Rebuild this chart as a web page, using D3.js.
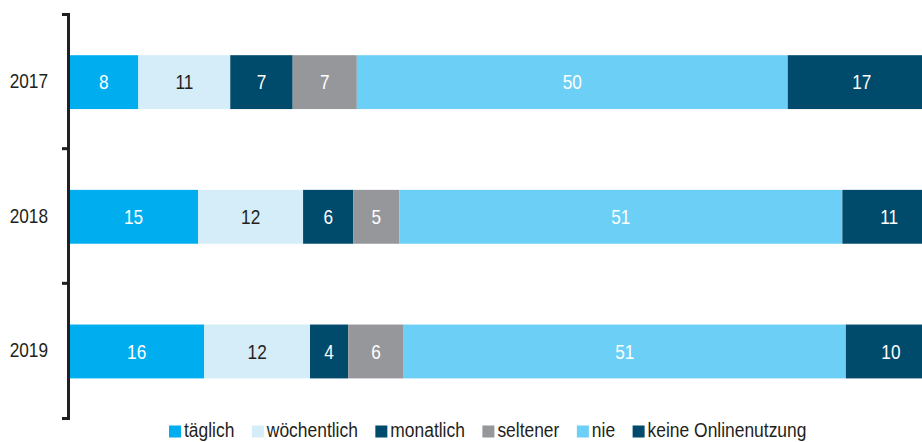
<!DOCTYPE html>
<html>
<head>
<meta charset="utf-8">
<script src="https://cdn.jsdelivr.net/npm/d3@7"></script>
<style>
  body { margin: 0; background: #fff; }
  svg { display: block; overflow: hidden; }
  text { font-family: "Liberation Sans", Arial, sans-serif; }
</style>
</head>
<body>
<svg id="chart"></svg>
<script>
const years = ["2017", "2018", "2019"];
const categories = ["täglich", "wöchentlich", "monatlich", "seltener", "nie", "keine Onlinenutzung"];
const colors = ["#00aeef", "#d5ecf9", "#004a6b", "#96979b", "#6ccff6", "#004a6b"];
const labelColors = ["#fff", "#231f20", "#fff", "#fff", "#fff", "#fff"];

// shares per year, in the order of categories (percent)
const values2017 = [8.0, 10.6, 7.2, 7.4, 49.7, 17.1];
const values2018 = [14.9, 12.1, 5.8, 5.3, 51.1, 10.8];
const values2019 = [15.6, 12.2, 4.4, 6.4, 51.0, 10.4];

const width = 922, height = 442;
const axisX = 68;
const narrow = 0.82; // condensed look: squeeze Liberation Sans horizontally
const fontSize = 21;

const svg = d3.select("#chart")
    .attr("width", width)
    .attr("height", height);

const rows = years.map((y, i) => {
    const vals = [values2017, values2018, values2019][i];
    let acc = 0;
    return {
        year: y,
        segs: vals.map((v, j) => {
            const s = { cat: j, x0: acc, x1: acc + v, v: v };
            acc += v;
            return s;
        })
    };
});

const xScale = d3.scaleLinear()
    .domain([0, 100])
    .range([69, 936]);

// axis bands (ticks at boundaries)
const yAxisScale = d3.scaleBand()
    .domain(years)
    .range([14, 418]);

// bars inside the bands
const yScale = d3.scaleBand()
    .domain(years)
    .range([14.8, 418.8])
    .paddingInner(0.6)
    .paddingOuter(0.3);

const fmt = d3.format(".0f");

const rowG = svg.selectAll("g.row")
    .data(rows)
    .enter().append("g")
    .attr("class", "row")
    .attr("transform", d => `translate(0,${yScale(d.year)})`);

rowG.selectAll("rect")
    .data(d => d.segs)
    .enter().append("rect")
    .attr("x", d => xScale(d.x0))
    .attr("width", d => xScale(d.x1) - xScale(d.x0))
    .attr("y", 0)
    .attr("height", yScale.bandwidth())
    .attr("fill", d => colors[d.cat]);

rowG.selectAll("text")
    .data(d => d.segs)
    .enter().append("text")
    .attr("transform", d => `translate(${(xScale(d.x0) + xScale(d.x1)) / 2},${yScale.bandwidth() / 2}) scale(${narrow},1)`)
    .attr("dy", "0.35em")
    .attr("text-anchor", "middle")
    .attr("font-size", fontSize)
    .attr("fill", d => labelColors[d.cat])
    .text(d => fmt(d.v));

// y axis
const yAxis = svg.append("g")
    .attr("class", "axis y-axis")
    .attr("transform", `translate(${axisX},0)`)
    .call(d3.axisLeft(yAxisScale)
        .tickSizeInner(0)
        .tickSizeOuter(6)
        .tickPadding(20));

yAxis.select(".domain")
    .attr("stroke", "#231f20")
    .attr("stroke-width", 3);

yAxis.selectAll(".tick text")
    .attr("x", -20 / narrow)
    .attr("transform", `scale(${narrow},1)`)
    .attr("font-size", fontSize)
    .attr("fill", "#231f20")
    .attr("font-family", null);

yAxis.selectAll("line.boundary")
    .data(years.slice(1))
    .enter().append("line")
    .attr("class", "boundary")
    .attr("x1", -6)
    .attr("x2", 0)
    .attr("y1", d => yAxisScale(d))
    .attr("y2", d => yAxisScale(d))
    .attr("stroke", "#231f20")
    .attr("stroke-width", 3);

// legend
const legend = svg.append("g")
    .attr("class", "legend")
    .attr("transform", "translate(169,425.5)");

const legendNarrow = 0.83;
let lx = 0;
categories.forEach((c, i) => {
    const item = legend.append("g").attr("transform", `translate(${lx},0)`);
    item.append("rect")
        .attr("width", 12)
        .attr("height", 12)
        .attr("fill", colors[i]);
    const t = item.append("text")
        .attr("transform", `translate(15,4.6) scale(${legendNarrow},1)`)
        .attr("dy", "0.35em")
        .attr("font-size", fontSize)
        .attr("fill", "#231f20")
        .text(c);
    lx += 15 + t.node().getComputedTextLength() * legendNarrow + 17.5;
});
</script>
</body>
</html>
